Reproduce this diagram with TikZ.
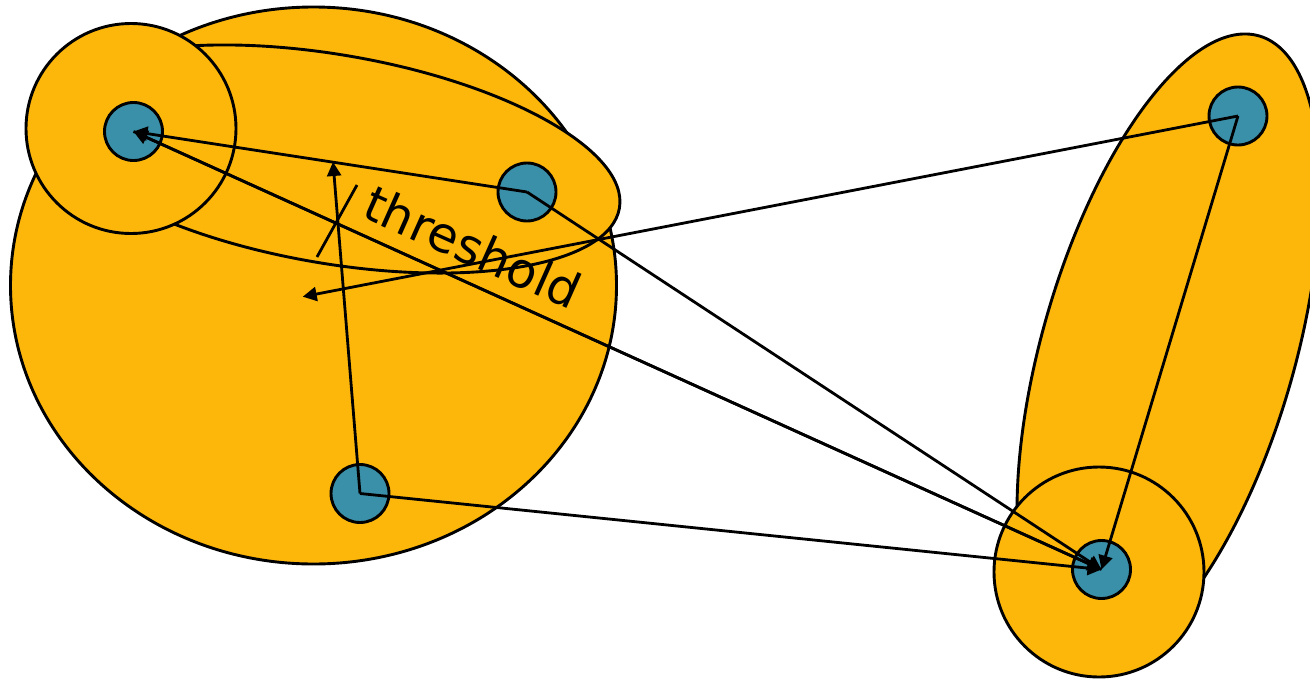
\documentclass[tikz,border=0pt]{standalone}
\usepackage{fontspec}
\newfontfamily\lblfont{DejaVu Sans}
\usetikzlibrary{arrows.meta}
\definecolor{blobfill}{RGB}{253,183,11}
\definecolor{pointfill}{RGB}{58,144,168}
\tikzset{
  blob/.style={fill=blobfill, draw=black, line width=2.9pt},
  pointnode/.style={circle, fill=pointfill, draw=black, line width=2.9pt, minimum size=58pt, inner sep=0pt},
  link/.style={draw=black, line width=2.8pt, -{Triangle[length=14pt,width=14pt]}},
  plainline/.style={draw=black, line width=2.8pt}
}
\begin{document}
\begin{tikzpicture}[x=1pt,y=-1pt]
\useasboundingbox (0,0) rectangle (1310,678);
% left group
\path[blob] (313.5,285.5) ellipse [x radius=303pt, y radius=278.5pt];
\path[blob, rotate around={-9.7:(332,159)}] (332,159) ellipse [x radius=291.6pt, y radius=104.4pt];
\path[blob] (131,128.5) circle [radius=105pt];
% right group
\path[blob, rotate around={-16.1:(1168.5,350)}] (1168.5,350) ellipse [x radius=126.3pt, y radius=326.9pt];
\path[blob] (1099,572) circle [radius=105pt];
% points
\node[pointnode] (A) at (133.5,131.5) {};
\node[pointnode] (B) at (527,192) {};
\node[pointnode] (C) at (360,493.5) {};
\node[pointnode] (D) at (1238,116) {};
\node[pointnode] (E) at (1101.5,569.5) {};
\coordinate (P) at (302.7,296.7);
\coordinate (Q) at (333,162);
\coordinate (T1) at (317,257);
\coordinate (T2) at (357,185);
% connectors
\draw[link] (B.center) -- (A.center);
\draw[link] (E.center) -- (A.center);
\draw[link] (A.center) -- (E.center);
\draw[link] (B.center) -- (E.center);
\draw[link] (C.center) -- (E.center);
\draw[link] (D.center) -- (E.center);
\draw[link] (D.center) -- (P);
\draw[link] (C.center) -- (Q);
\draw[plainline] (T1) -- (T2);
\node[font=\lblfont\fontsize{49}{57}\selectfont, rotate=-24, inner sep=0pt] (lbl) at (473,247) {threshold};
\end{tikzpicture}
\end{document}
